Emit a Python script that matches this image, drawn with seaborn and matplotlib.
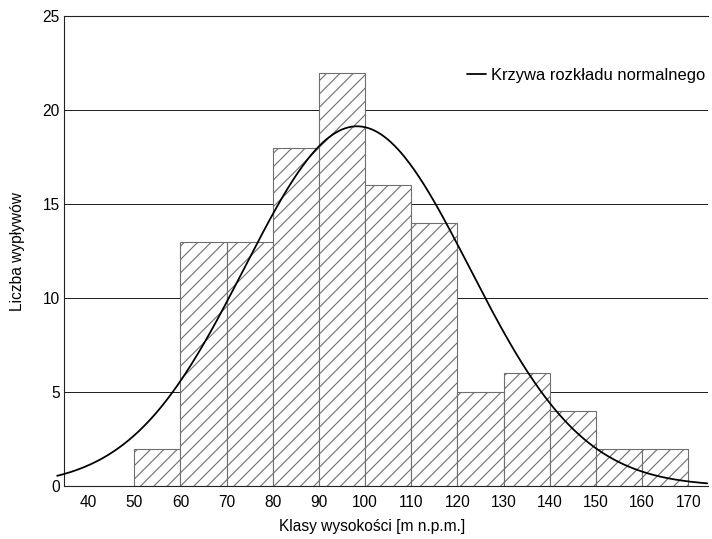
import numpy as np
import pandas as pd
import matplotlib
matplotlib.use('Agg')
import matplotlib.pyplot as plt
import seaborn as sns

# Data
bin_edges = [50, 60, 70, 80, 90, 100, 110, 120, 130, 140, 150, 160, 170]
counts = [2, 13, 13, 18, 22, 16, 14, 5, 6, 4, 2, 2]
x_ticks = [40, 50, 60, 70, 80, 90, 100, 110, 120, 130, 140, 150, 160, 170]
y_ticks = [0, 5, 10, 15, 20, 25]

sns.set_theme(style="white")
plt.rcParams['font.family'] = ['Liberation Sans', 'DejaVu Sans']
plt.rcParams['text.color'] = 'black'
plt.rcParams['axes.labelcolor'] = 'black'
plt.rcParams['xtick.color'] = 'black'
plt.rcParams['ytick.color'] = 'black'

mids = [(a + b) / 2 for a, b in zip(bin_edges[:-1], bin_edges[1:])]
df = pd.DataFrame({'mid': mids, 'n': counts})

# normal curve fitted to the grouped data
width = 10
total = df['n'].sum()
mean = (df['mid'] * df['n']).sum() / total
sd = np.sqrt((df['n'] * (df['mid'] - mean) ** 2).sum() / (total - 1))
xs = np.linspace(33.3, 174.1, 400)
ys = total * width / (sd * np.sqrt(2 * np.pi)) * np.exp(-0.5 * ((xs - mean) / sd) ** 2)
curve = pd.DataFrame({'x': xs, 'y': ys})

fig = plt.figure(figsize=(8.9, 6.7375), dpi=80)
ax = fig.add_axes([0.09, 0.098, 0.904, 0.872])

for yv in y_ticks[1:]:
    ax.axhline(yv, color='#222222', lw=0.9, zorder=0)

sns.histplot(data=df, x='mid', weights='n', bins=bin_edges, ax=ax,
             color='white', edgecolor='#6e6e6e', linewidth=1.0, alpha=1, zorder=2)
plt.rcParams['hatch.color'] = '#666666'
plt.rcParams['hatch.linewidth'] = 0.8
for p in ax.patches:
    p.set_hatch('//')

sns.lineplot(data=curve, x='x', y='y', ax=ax, color='black', lw=1.6,
             label='Krzywa rozkładu normalnego', zorder=3, clip_on=False)

ax.set_xlim(34.8, 174.2)
ax.set_ylim(0, 25)
ax.set_xticks(x_ticks)
ax.set_yticks(y_ticks)
ax.tick_params(axis='x', direction='in', length=3, width=0.8, color='#444444',
               labelsize=14, pad=8)
ax.tick_params(axis='y', length=0, labelsize=14, pad=4)
ax.set_xlabel('Klasy wysokości [m n.p.m.]', fontsize=14)
ax.set_ylabel('Liczba wypływów', fontsize=14)
ax.xaxis.set_label_coords(0.478, -0.07)
ax.yaxis.set_label_coords(-0.06, 0.5)

for s in ['left', 'bottom', 'top']:
    ax.spines[s].set_color('#222222')
    ax.spines[s].set_linewidth(1.0)
ax.spines['right'].set_visible(False)

leg = ax.legend(loc='center right', bbox_to_anchor=(1.007, 0.874), frameon=False,
                fontsize=14.8, handlelength=1.2, handletextpad=0.3, borderaxespad=0)

fig.savefig('out.png', dpi=80)
